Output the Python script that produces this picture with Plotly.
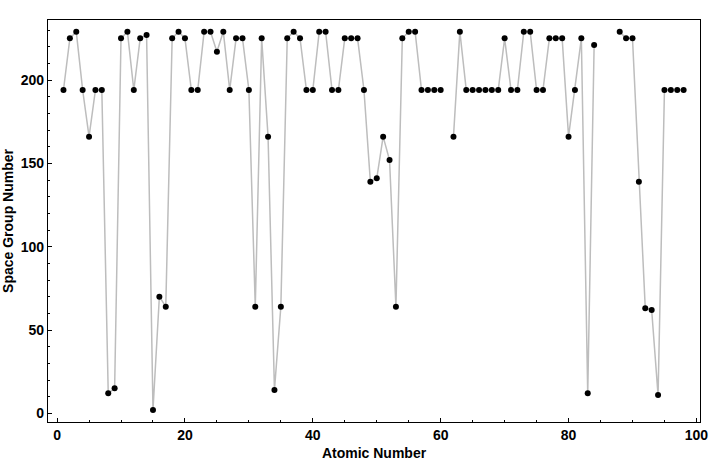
import plotly.graph_objects as go

atomic_number = list(range(1, 99))
space_group = [
    194, 225, 229, 194, 166, 194, 194, 12, 15, 225,
    229, 194, 225, 227, 2, 70, 64, 225, 229, 225,
    194, 194, 229, 229, 217, 229, 194, 225, 225, 194,
    64, 225, 166, 14, 64, 225, 229, 225, 194, 194,
    229, 229, 194, 194, 225, 225, 225, 194, 139, 141,
    166, 152, 64, 225, 229, 229, 194, 194, 194, 194,
    None, 166, 229, 194, 194, 194, 194, 194, 194, 225,
    194, 194, 229, 229, 194, 194, 225, 225, 225, 166,
    194, 225, 12, 221, None, None, None, 229, 225, 225,
    139, 63, 62, 11, 194, 194, 194, 194,
]

x_ticks = [0, 20, 40, 60, 80, 100]
y_ticks = [0, 50, 100, 150, 200]

fig = go.Figure()
fig.add_trace(go.Scatter(
    x=atomic_number, y=space_group, mode="lines",
    line=dict(color="#BDBDBD", width=1.5), connectgaps=False,
    hoverinfo="skip", showlegend=False,
))
fig.add_trace(go.Scatter(
    x=atomic_number, y=space_group, mode="markers",
    marker=dict(color="black", size=6), showlegend=False,
))

fam = "Liberation Sans, Arial, sans-serif"
lab_font = dict(family=fam, size=14, color="black", weight="bold")

fig.update_layout(
    width=720, height=461,
    margin=dict(l=48, r=20, t=20, b=39, autoexpand=False),
    paper_bgcolor="white", plot_bgcolor="white",
    font=dict(family=fam, size=14, color="black"),
    xaxis=dict(
        range=[-1.42, 100.56], tickvals=x_ticks,
        ticks="inside", ticklen=4, tickwidth=1, tickcolor="black",
        minor=dict(dtick=5, tick0=0, ticks="inside", ticklen=2, tickcolor="black", tickwidth=1),
        showgrid=False, zeroline=False,
        showline=True, linecolor="black", linewidth=1.2, mirror=True,
        tickfont=lab_font, automargin=False,
        title=dict(text="Atomic Number", standoff=8, font=lab_font),
    ),
    yaxis=dict(
        range=[-5.2, 236.0], tickvals=y_ticks,
        ticks="inside", ticklen=4, tickwidth=1, tickcolor="black",
        minor=dict(dtick=10, tick0=0, ticks="inside", ticklen=2, tickcolor="black", tickwidth=1),
        showgrid=False, zeroline=False,
        showline=True, linecolor="black", linewidth=1.2, mirror=True,
        tickfont=lab_font, automargin=False,
        title=dict(text="Space Group Number", standoff=6, font=lab_font),
    ),
)

fig.write_html("out.html")
